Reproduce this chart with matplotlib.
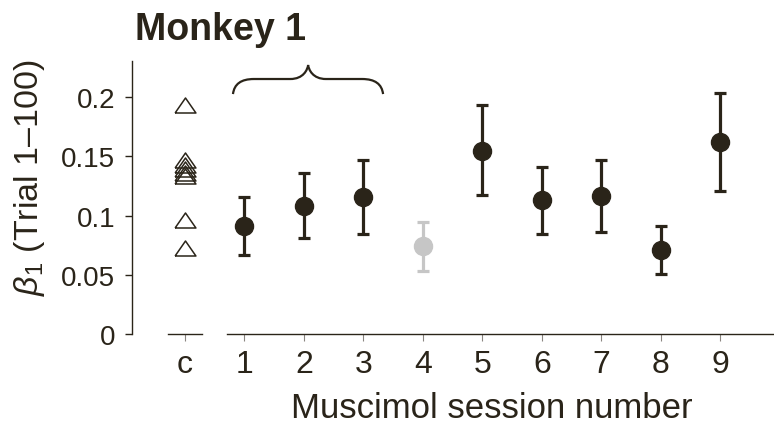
import matplotlib
matplotlib.use("Agg")
import matplotlib.pyplot as plt
from matplotlib.path import Path
from matplotlib.patches import PathPatch

plt.rcParams['font.family'] = ['Liberation Sans', 'DejaVu Sans']
plt.rcParams['mathtext.fontset'] = 'custom'
plt.rcParams['mathtext.rm'] = 'Liberation Sans'
plt.rcParams['mathtext.it'] = 'Liberation Sans:italic'

# ---- data ----
x_labels = ["c", "1", "2", "3", "4", "5", "6", "7", "8", "9"]
control_values = [0.1935, 0.147, 0.143, 0.139, 0.136, 0.133, 0.0966, 0.0722]
sessions = [1, 2, 3, 4, 5, 6, 7, 8, 9]
beta_mean = [0.0914, 0.1083, 0.1153, 0.0745, 0.1547, 0.113, 0.1167, 0.0711, 0.162]
beta_upper = [0.1153, 0.1356, 0.1468, 0.0948, 0.193, 0.1412, 0.147, 0.0909, 0.2034]
beta_lower = [0.0667, 0.081, 0.0844, 0.0534, 0.1173, 0.0844, 0.0863, 0.0509, 0.1207]
grey_session = 4
y_ticks = [0, 0.05, 0.1, 0.15, 0.2]
y_ticklabels = ["0", "0.05", "0.1", "0.15", "0.2"]

DARK = '#2a2419'
GREY = '#c6c6c6'

fig = plt.figure(figsize=(7.74, 4.27), dpi=100)
ax = fig.add_axes([132/774, 92/427, 642/774, 273/427])

ax.set_xlim(-0.89, 9.9)
ax.set_ylim(0, 0.2304)

# control triangles
tri = [(-1, -0.72), (1, -0.72), (0, 0.72), (-1, -0.72)]
ax.plot([0]*len(control_values), control_values, linestyle='none', marker=tri,
        markersize=15, markerfacecolor='none', markeredgecolor=DARK,
        markeredgewidth=1.1, clip_on=False)

# sessions
for s, m, lo, hi in zip(sessions, beta_mean, beta_lower, beta_upper):
    c = GREY if s == grey_session else DARK
    ax.errorbar([s], [m], yerr=[[m - lo], [hi - m]], fmt='o', color=c,
                markersize=13, elinewidth=2.3, capsize=4.5, capthick=2.3,
                clip_on=False)

# brace over sessions 1-3
x0, xm, x1 = 0.807, 2.07, 3.33
yb, yh, yt = 0.2025, 0.2152, 0.227
verts = [(x0, yb),
         (x0 + 0.03, yh), (x0 + 0.35, yh),
         (xm - 0.3, yh),
         (xm - 0.08, yh), (xm - 0.01, yt - 0.004), (xm, yt),
         (xm + 0.01, yt - 0.004), (xm + 0.08, yh), (xm + 0.3, yh),
         (x1 - 0.35, yh),
         (x1 - 0.03, yh), (x1, yb)]
codes = [Path.MOVETO,
         Path.CURVE3, Path.CURVE3,
         Path.LINETO,
         Path.CURVE4, Path.CURVE4, Path.CURVE4,
         Path.CURVE4, Path.CURVE4, Path.CURVE4,
         Path.LINETO,
         Path.CURVE3, Path.CURVE3]
ax.add_patch(PathPatch(Path(verts, codes), facecolor='none', edgecolor=DARK,
                       linewidth=1.6, clip_on=False))

# spines
for sp in ['top', 'right', 'bottom']:
    ax.spines[sp].set_visible(False)
ax.spines['left'].set_color(DARK)
ax.spines['left'].set_linewidth(1.0)
ax.axhline(0, xmin=36/642, xmax=70/642, color=DARK, linewidth=1.0, clip_on=False)
ax.axhline(0, xmin=95/642, xmax=1.0, color=DARK, linewidth=1.0, clip_on=False)

ax.set_yticks(y_ticks)
ax.set_yticklabels(y_ticklabels)
ax.set_xticks(range(len(x_labels)))
ax.set_xticklabels(x_labels)
ax.tick_params(axis='y', direction='out', length=5, width=1.0, color=DARK,
               labelsize=20, labelcolor=DARK, pad=7)
ax.tick_params(axis='x', direction='out', length=5, width=0.8, color='#8a8580',
               labelsize=23, labelcolor=DARK, pad=6)

ax.set_xlabel("Muscimol session number", fontsize=25, color=DARK)
ax.xaxis.label.set_va('baseline')
ax.xaxis.set_label_coords((492 - 132) / 642, (335 - 418) / 273)
ax.set_ylabel(r"$\beta_1$ (Trial 1–100)", fontsize=24.5, color=DARK)
ax.yaxis.set_label_coords((30 - 132) / 642, (335 - 178) / 273)
ax.yaxis.label.set_va('center')

fig.text(135/774, 1 - 30/427, "Monkey 1", fontsize=27, fontweight='bold',
         color=DARK, ha='left', va='center')

fig.savefig("out.png", dpi=100)
